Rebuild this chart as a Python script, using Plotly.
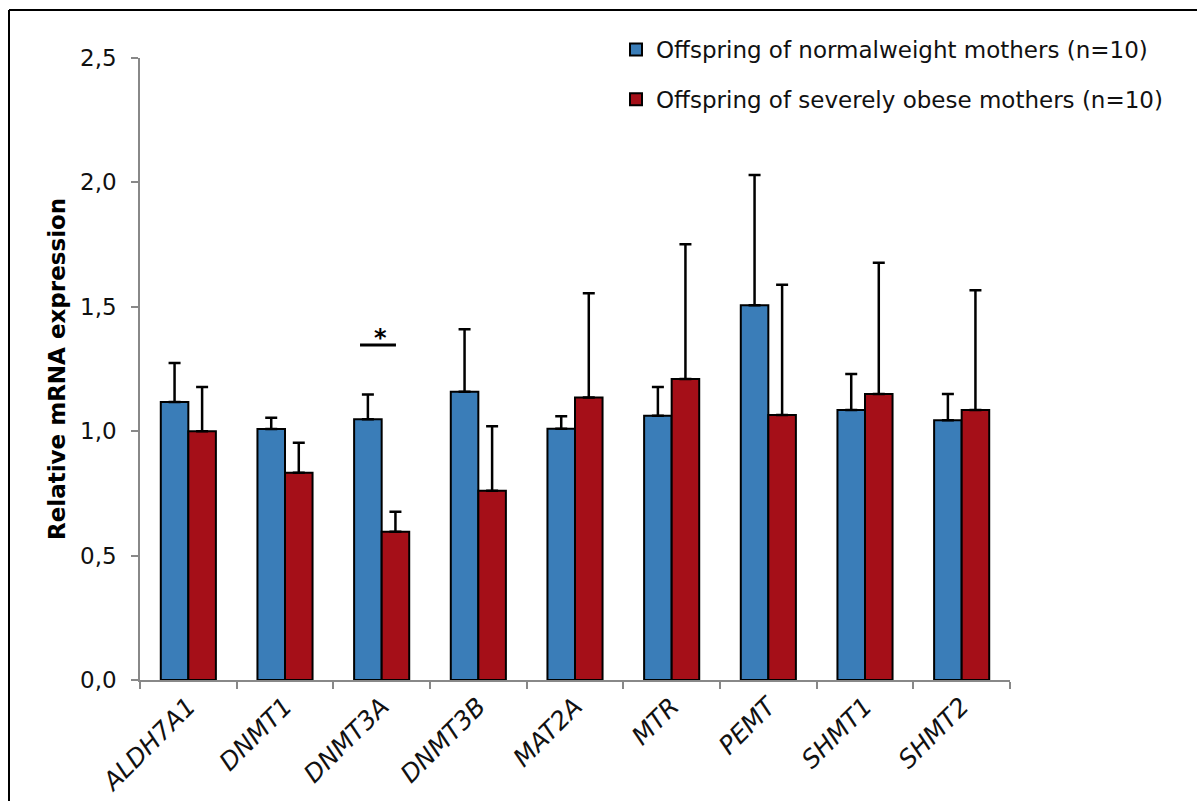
import plotly.graph_objects as go

genes = ["ALDH7A1", "DNMT1", "DNMT3A", "DNMT3B", "MAT2A", "MTR", "PEMT", "SHMT1", "SHMT2"]
normal_vals = [1.117, 1.009, 1.048, 1.159, 1.010, 1.062, 1.506, 1.085, 1.044]
normal_err = [0.157, 0.045, 0.100, 0.251, 0.050, 0.116, 0.524, 0.145, 0.106]
obese_vals = [1.000, 0.833, 0.596, 0.761, 1.135, 1.210, 1.065, 1.150, 1.085]
obese_err = [0.178, 0.121, 0.080, 0.259, 0.419, 0.541, 0.524, 0.527, 0.482]
zeros = [0] * len(genes)

name_normal = "Offspring of normalweight mothers (n=10)"
name_obese = "Offspring of severely obese mothers (n=10)"
y_ticks = [0, 0.5, 1.0, 1.5, 2.0, 2.5]

FONT = "DejaVu Sans, Liberation Sans, Arial"
W, H = 1197, 801
L, R, T, B = 140, 187, 58, 121
pw, ph = W - L - R, H - T - B

def px_x(px):
    return (px - L) / pw

def px_y(py):
    return (H - B - py) / ph

err_style = dict(type="data", symmetric=False, arrayminus=zeros,
                 color="black", thickness=2.5, width=6, visible=True)

fig = go.Figure()
fig.add_trace(go.Bar(
    x=genes, y=normal_vals, name=name_normal, legendgroup="a",
    marker=dict(color="#3A7DB8", line=dict(color="black", width=2)),
    error_y=dict(array=normal_err, **err_style),
))
fig.add_trace(go.Bar(
    x=genes, y=obese_vals, name=name_obese, legendgroup="b",
    marker=dict(color="#A50F18", line=dict(color="black", width=2)),
    error_y=dict(array=obese_err, **err_style),
))

# significance marker for DNMT3A
fig.add_shape(type="line", xref="x", yref="y", x0=2 - 0.224, x1=2 + 0.148,
              y0=1.346, y1=1.346, line=dict(color="black", width=3))
fig.add_annotation(x=2 - 0.015, y=1.31, xref="x", yref="y", text="<b>*</b>",
                   showarrow=False, yanchor="bottom",
                   font=dict(size=24, color="black", family=FONT))

# y-axis title placed precisely
fig.add_annotation(xref="paper", yref="paper", x=px_x(57), y=px_y(369),
                   xanchor="center", yanchor="middle", textangle=-90,
                   text="<b>Relative mRNA expression</b>", showarrow=False,
                   font=dict(size=23, color="black", family=FONT))

# outer frame (top and left)
fig.add_shape(type="line", xref="paper", yref="paper",
              x0=px_x(9), x1=px_x(1210), y0=px_y(10), y1=px_y(10),
              line=dict(color="black", width=2))
fig.add_shape(type="line", xref="paper", yref="paper",
              x0=px_x(9), x1=px_x(9), y0=px_y(10), y1=px_y(810),
              line=dict(color="black", width=2))

fig.update_layout(
    width=W, height=H,
    margin=dict(l=L, r=R, t=T, b=B, autoexpand=False),
    paper_bgcolor="white", plot_bgcolor="white",
    barmode="group", bargap=0.43, bargroupgap=0,
    separators=",.",
    font=dict(family=FONT, size=23, color="#111111"),
    legend=dict(x=px_x(616), y=px_y(28), xanchor="left", yanchor="top",
                traceorder="grouped", tracegroupgap=17,
                font=dict(size=23, color="#111111", family=FONT),
                bgcolor="rgba(0,0,0,0)"),
    showlegend=True,
)
fig.update_xaxes(
    type="category", tickson="boundaries", ticks="outside", ticklen=7,
    tickcolor="#888888", tickwidth=1.5, showline=True, linecolor="#888888",
    linewidth=1.5, tickangle=-45, showgrid=False, automargin=False,
    tickfont=dict(size=25, color="#111111", family=FONT),
    ticktext=["<i>%s</i>" % g for g in genes], tickvals=genes,
)
fig.update_yaxes(
    range=[0, 2.5], tickvals=y_ticks, tickformat=".1f", ticks="outside",
    ticklen=7, tickcolor="#888888", tickwidth=1.5, showline=True,
    linecolor="#888888", linewidth=1.5, showgrid=False, zeroline=False,
    automargin=False,
    tickfont=dict(size=23, color="#111111", family=FONT),
    ticklabelstandoff=10,
)

fig.write_html("out.html")
